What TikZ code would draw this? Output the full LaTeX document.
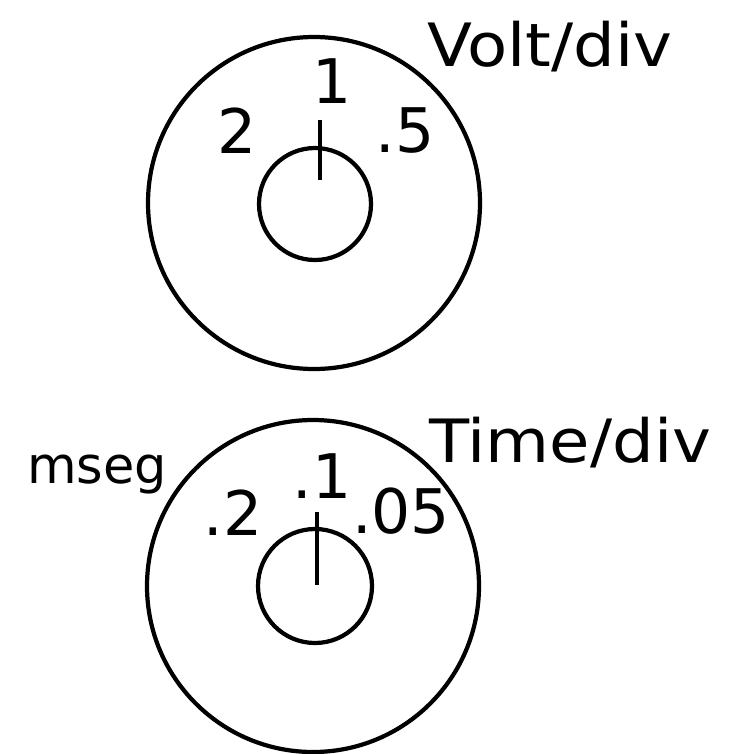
\documentclass[tikz,border=0pt]{standalone}
\usepackage{fontspec}
\setmainfont{DejaVu Sans}
\usetikzlibrary{positioning}

\begin{document}
\begin{tikzpicture}[x=0.02cm,y=-0.02cm,line width=2.4pt,
    num/.style={inner sep=0pt,anchor=base,font=\fontsize{35}{40}\selectfont},
    ttl/.style={inner sep=0pt,anchor=base west,xscale=1.1,font=\fontsize{34}{40}\selectfont}]
    \useasboundingbox (0,0) rectangle (732,754);
    % Volt/div knob
    \draw (314,203) circle (166); \draw (315,204) circle (56);
    \coordinate (vtop) at (320,120); \coordinate (vbot) at (320,180);
    \draw (vtop) -- (vbot);
    \node[ttl] (volt) at (425,66) {Volt/div};
    \node[num] (v2) at (237,153) {2};
    \node[num] (v1) at (332,103) {1};
    \node[num] (v05) at (405,152) {.5};
    % Time/div knob
    \draw (313,586) circle (166); \draw (315,586) circle (57);
    \coordinate (ttop) at (317,512); \coordinate (tbot) at (317,585);
    \draw (ttop) -- (tbot);
    \node[ttl] (time) at (427,462) {Time/div};
    \node[inner sep=0pt,anchor=base west,font=\fontsize{29}{34}\selectfont] (mseg) at (25,483) {mseg};
    \node[num] (t02) at (233,535) {.2};
    \node[num] (t01) at (322,498) {.1};
    \node[num] (t005) at (401,533) {.05};
\end{tikzpicture}
\end{document}
